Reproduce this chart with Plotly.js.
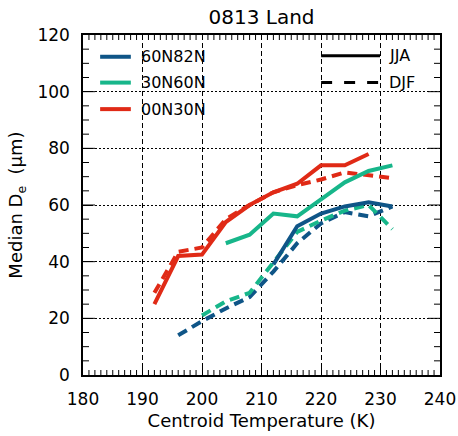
<!DOCTYPE html>
<html><head><meta charset="utf-8">
<script src="https://cdn.plot.ly/plotly-3.0.1.min.js"></script>
<style>body{margin:0;background:#fff}#c{width:458px;height:436px}</style>
</head><body><div id="c"></div>
<script>
const temps = [192,196,200,204,208,212,216,220,224,228,232];
const blueJJA  = [null,null,null,null,null,39,52.5,57,59.5,61,59.5];
const blueDJF  = [null,14,19,23.5,27.5,36.5,46.5,53.5,57.5,56,59.5];
const greenJJA = [null,null,null,46.5,49.5,57,56,62,68,72,74];
const greenDJF = [null,null,21,26,29,39.5,50.5,54.5,58,60,51.5];
const redJJA   = [25,42,42.5,54,60,64.5,67.5,74,74,78,null];
const redDJF   = [29,43.5,45,55,60,64.5,67,69,71.5,70.5,69.5];
const regions = ["60N82N","30N60N","00N30N"];
const seasons = ["JJA","DJF"];
const xTicks = [180,190,200,210,220,230,240];
const yTicks = [0,20,40,60,80,100,120];

const BLUE="#0f5587", GREEN="#17b68a", RED="#e02a16";
const F = "DejaVu Sans";
function tr(y,color,dash){
  return {x:temps,y:y,type:"scatter",mode:"lines",showlegend:false,
    line:{color:color,width:4,dash:dash},hoverinfo:"skip"};
}
const xr=[xTicks[0],xTicks[xTicks.length-1]], yr=[yTicks[0],yTicks[yTicks.length-1]];
const xStep=xTicks[1]-xTicks[0], yStep=yTicks[1]-yTicks[0];
const data=[
  tr(blueDJF,BLUE,"10px,6px"),
  tr(greenDJF,GREEN,"10px,6px"),
  tr(redDJF,RED,"10px,6px"),
  tr(blueJJA,BLUE,"solid"),
  tr(greenJJA,GREEN,"solid"),
  tr(redJJA,RED,"solid")
];
const colors=[BLUE,GREEN,RED];
const legY=[0.936,0.860,0.782];
const shapes=[], ann=[];
regions.forEach((r,i)=>{
  shapes.push({type:"line",xref:"paper",yref:"paper",x0:0.048,x1:0.134,y0:legY[i],y1:legY[i],line:{color:colors[i],width:4}});
  ann.push({xref:"paper",yref:"paper",x:0.156,y:legY[i],xanchor:"left",yanchor:"middle",showarrow:false,text:r,font:{family:F,size:16,color:"#000"}});
});
const sY=[0.939,0.860];
seasons.forEach((s,i)=>{
  shapes.push({type:"line",xref:"paper",yref:"paper",x0:0.667,x1:0.832,y0:sY[i],y1:sY[i],line:{color:"#000",width:3,dash:i?"11px,12px":"solid"}});
  ann.push({xref:"paper",yref:"paper",x:0.852,y:sY[i],xanchor:"left",yanchor:"middle",showarrow:false,text:s,font:{family:F,size:16,color:"#000"}});
});
// minor tick marks on all four sides, positioned through the axis scales
const plotW=458-83-18, plotH=436-35-61;
const xMinor=1, yMinor=5;
const tx=5/plotH, ty=6/plotW;
for(let v=xr[0]+xMinor; v<xr[1]; v+=xMinor){
  if((v-xr[0])%xStep===0) continue;
  shapes.push({type:"line",xref:"x",yref:"y domain",x0:v,x1:v,y0:0,y1:tx,line:{color:"#000",width:1}});
  shapes.push({type:"line",xref:"x",yref:"y domain",x0:v,x1:v,y0:1-tx,y1:1,line:{color:"#000",width:1}});
}
for(let v=yr[0]+yMinor; v<yr[1]; v+=yMinor){
  const len=((v-yr[0])%yStep===0)?2*ty:ty;
  shapes.push({type:"line",xref:"x domain",yref:"y",x0:0,x1:len,y0:v,y1:v,line:{color:"#000",width:1}});
  shapes.push({type:"line",xref:"x domain",yref:"y",x0:1-len,x1:1,y0:v,y1:v,line:{color:"#000",width:1}});
}
const NB="\u00a0";
const layout={
  width:458,height:436,
  margin:{l:83,r:18,t:35,b:61},
  paper_bgcolor:"#fff",plot_bgcolor:"#fff",
  font:{family:F,size:16,color:"#000"},
  title:{text:"0813 Land",xref:"paper",x:0.5,xanchor:"center",yref:"container",y:0.96,yanchor:"middle",font:{family:F,size:20,color:"#000"}},
  xaxis:{range:xr,dtick:xStep,ticks:"inside",ticklen:8,tickcolor:"black",zeroline:false,
    showline:true,linecolor:"#000",linewidth:1.5,mirror:true,
    showgrid:true,gridcolor:"#000",gridwidth:1,griddash:"5px,3px",
    ticklabelstandoff:8,tickfont:{size:17},
    title:{text:"Centroid Temperature (K)",standoff:6,font:{family:F,size:18}}},
  yaxis:{range:yr,dtick:yStep,ticks:"inside",ticklen:8,tickcolor:"black",zeroline:false,
    showline:true,linecolor:"#000",linewidth:1.5,mirror:true,
    showgrid:true,gridcolor:"#000",gridwidth:1,griddash:"2px,2px",
    ticklabelstandoff:8,tickfont:{size:17},
    title:{text:"Median"+NB+"D<sub>e</sub>"+NB+NB+"(μm)",standoff:10,font:{family:F,size:18}}},
  shapes:shapes,annotations:ann
};
Plotly.newPlot("c",data,layout,{displayModeBar:false});
</script></body></html>
